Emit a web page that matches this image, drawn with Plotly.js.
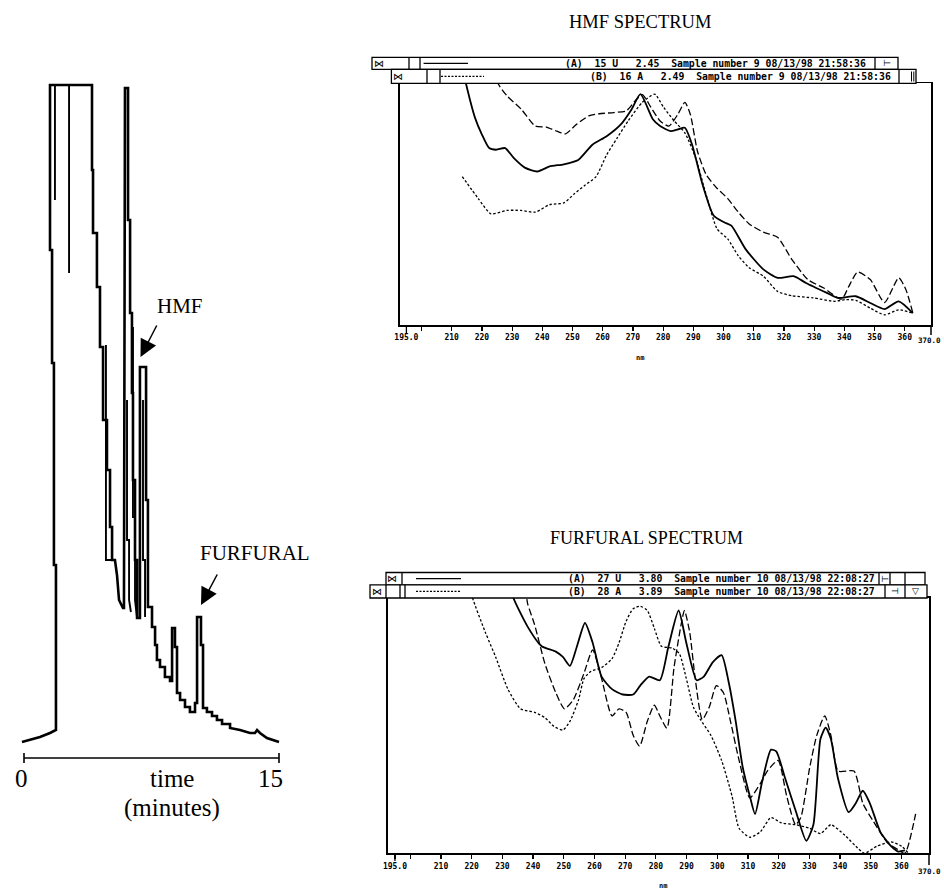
<!DOCTYPE html>
<html>
<head>
<meta charset="utf-8">
<script src="https://cdn.plot.ly/plotly-3.0.1.min.js"></script>
<style>html,body{margin:0;padding:0;background:#fff;}#chart{width:944px;height:893px;}</style>
</head>
<body>
<div id="chart"></div>
<script>
// ---------- DATA ----------
// Chromatogram (time in minutes, detector response in arbitrary units)
const chromTime = [-0.12,0.35,0.94,1.53,1.88,1.88,1.76,1.76,1.65,1.65,1.53,1.53,4.00,4.00,4.06,4.06,4.29,4.29,4.47,4.47,
  4.65,4.65,4.88,4.88,5.06,5.06,5.18,5.18,5.35,5.47,5.59,5.82,5.88,5.94,6.12,6.12,6.24,6.24,6.35,6.35,
  6.41,6.41,6.53,6.53,6.65,6.65,6.82,6.82,7.18,7.18,7.29,7.29,7.53,7.53,7.71,7.71,7.82,7.82,8.00,8.00,
  8.29,8.29,8.59,8.59,8.71,8.71,8.88,8.88,9.00,9.00,9.18,9.18,9.47,9.47,9.76,9.76,10.06,10.06,10.18,10.18,
  10.41,10.41,10.53,10.53,10.76,10.76,11.06,11.06,11.35,11.35,11.65,11.65,12.12,12.12,12.71,13.29,13.59,13.71,13.88,14.29,15.00];
const chromSignal = [18,20,23,27,30,195,195,397,397,510,510,675,675,590,590,527,527,473,473,413,
  413,340,340,290,290,233,233,200,200,185,160,152,152,672,672,540,540,447,447,367,
  367,280,280,200,200,142,142,393,393,260,260,153,153,133,133,115,115,100,100,93,
  93,83,83,79,79,132,132,113,113,67,67,60,60,53,53,48,48,57,57,143,
  143,115,115,52,52,48,48,44,44,40,40,36,36,32,30,27,27,30,27,22,18];
const overlayTime = [1.82,1.82,null,2.65,2.65,null,4.82,4.82,5.24,null,6.41,6.41,6.53,6.53,6.65,null,6.06,6.06,6.18,6.18,6.29,null,7.00,7.00,7.12,7.12];
const overlaySignal = [675,560,null,675,487,null,415,200,200,null,433,243,243,160,142,null,360,220,220,160,148,null,360,200,200,143];

// HMF spectrum (nm, relative absorbance)
const hmfSolidNm = [213.5,214.7,217.7,220.0,222.4,224.7,227.7,230.6,234.2,238.3,242.4,247.1,251.9,256.6,261.3,266.0,269.6,272.5,276.6,279.0,
  282.5,284.9,287.2,289.6,293.1,296.7,300.2,302.6,307.3,313.2,317.9,323.2,327.3,334.4,337.9,343.8,348.6,353.3,358.0,362.7];
const hmfSolidAbs = [107,100,85.8,78.8,73.2,72.5,73.2,69.0,65.1,63.5,65.6,66.5,68.3,74.6,78.1,83.0,89.3,95.5,85.1,82.3,
  80.2,80.9,81.6,74.6,57.9,45.3,42.5,41.1,31.4,23.0,19.5,20.2,17.4,13.2,11.2,11.9,9.1,6.6,9.8,4.9];
const hmfDashNm = [224.2,225.3,228.3,233.0,237.7,241.3,244.8,247.7,251.3,255.4,258.9,263.7,267.8,270.7,273.1,276.0,279.0,281.9,284.9,287.2,
  289.0,291.4,294.3,297.9,301.4,304.9,308.5,313.2,317.9,322.6,327.9,333.2,339.1,341.5,344.4,348.6,353.3,358.0,360.4,362.7];
const hmfDashAbs = [105,100,94.8,89.3,82.3,81.9,80.2,79.1,83.0,86.5,87.4,87.9,88.6,92.7,95.3,90.0,84.4,82.3,87.2,92.1,
  87.2,71.8,62.1,56.5,52.3,46.7,41.8,38.4,36.3,27.2,18.8,15.3,10.7,16.0,21.9,18.8,9.3,19.5,14.6,4.9];
const hmfDotNm = [213.5,218.8,223.0,228.3,233.0,237.7,242.4,247.1,250.7,254.2,257.8,261.3,264.8,268.4,273.1,277.2,280.2,283.7,287.2,290.8,
  294.3,297.9,301.4,304.9,308.5,313.2,317.9,322.6,329.7,336.8,340.3,343.8,348.6,353.3,358.0,362.7];
const hmfDotAbs = [61.4,52.3,46.0,47.4,47.4,46.7,49.8,50.5,54.4,57.9,61.4,70.4,77.4,84.4,92.1,95.5,90.0,84.4,79.5,69.0,
  53.7,39.7,35.6,28.6,23.7,20.2,13.9,12.1,11.2,9.8,10.5,10.2,7.0,4.2,6.3,4.9];

// Furfural spectrum
const furDotNm = [219.8,220.3,224.4,227.8,231.8,235.9,240.5,243.9,246.8,249.7,252.0,254.8,256.6,258.9,262.3,265.7,268.0,270.3,272.6,274.9,
  277.2,279.5,281.8,285.3,287.6,289.9,292.2,294.5,297.9,301.4,304.8,307.1,310.6,314.0,317.5,320.9,325.5,330.1,333.6,337.0,
  341.6,345.1,347.9,352.0,356.6,360.0,362.3];
const furDotAbs = [103.5,100,86.7,76.9,64.3,56.6,55.2,53.1,49.7,48.3,51.7,60.1,68.5,71.3,72.7,76.2,82.5,90.9,95.8,96.8,
  95.1,88.1,81.1,80.4,78.3,68.5,57.3,52.4,46.2,36.4,22.4,9.8,6.3,8.4,14.0,11.9,11.2,9.8,7.7,11.2,
  7.0,2.8,0,2.8,4.5,2.8,0];
const furSolidNm = [233.0,233.6,238.2,242.8,247.4,249.7,252.0,254.3,256.9,259.4,262.3,265.7,269.2,272.6,274.9,277.8,281.3,284.1,287.4,289.9,
  293.3,295.6,298.5,301.4,303.7,306.0,308.3,310.6,312.3,314.6,317.5,319.2,322.1,325.5,329.0,331.3,333.6,335.3,337.0,339.3,
  342.8,345.1,347.4,349.7,353.1,356.6,358.9,361.1];
const furSolidAbs = [103.5,100,88.8,81.1,79.0,76.9,73.4,81.1,90.2,82.5,69.2,64.3,62.2,62.2,65.7,69.2,67.8,81.1,95.1,82.5,
  67.8,69.2,74.8,77.6,67.1,51.7,33.6,22.4,15.4,28.0,40.6,39.9,29.4,16.8,4.9,11.2,44.8,49.2,44.8,29.4,
  16.1,19.6,24.5,19.6,8.4,2.8,0.7,1.1];
const furDashNm = [237.6,238.2,240.5,243.9,247.4,250.2,253.1,256.6,259.4,262.3,265.7,268.0,270.3,272.6,274.7,277.2,279.5,281.3,283.6,285.9,
  288.2,289.3,291.0,292.8,295.1,297.4,299.7,302.0,304.3,307.1,310.6,314.0,316.3,319.8,322.6,325.5,327.2,330.1,332.4,335.0,
  337.0,339.4,344.5,347.4,350.8,355.4,358.9,361.1,364.6];
const furDashAbs = [103.5,97.9,89.5,74.1,62.9,56.6,60.1,70.6,79.7,68.5,53.8,56.6,55.2,46.2,42.0,51.7,58.0,53.8,49.0,72.7,
  89.5,95.1,86.7,68.5,52.4,57.3,65.7,62.9,51.7,36.4,21.7,27.3,32.2,36.4,22.4,11.2,14.0,33.6,46.2,53.8,
  46.2,32.2,32.2,19.6,12.6,4.2,1.4,0,15.4];

// Tick labels
const nmTickVals = [195,200,210,220,230,240,250,260,270,280,290,300,310,320,330,340,350,360];
const nmTickText = ['195.0','','210','220','230','240','250','260','270','280','290','300','310','320','330','340','350','360'];
const nmEndLabel = '370.0';

// Header texts
const hmfHeaderA = '(A)  15 U   2.45  Sample number 9 08/13/98 21:58:36';
const hmfHeaderB = '(B)  16 A   2.49  Sample number 9 08/13/98 21:58:36';
const furHeaderA = '(A)  27 U   3.80  Sample number 10 08/13/98 22:08:27';
const furHeaderB = '(B)  28 A   3.89  Sample number 10 08/13/98 22:08:27';

// ---------- LAYOUT HELPERS ----------
const W = 944, H = 893;
const px = x => x / W;
const py = y => 1 - y / H;
const nb = s => s.replace(/ /g, '\u00A0');
const BLK = '#000';
const serif = 'Liberation Serif, Times New Roman, serif';
const mono = 'DejaVu Sans Mono, monospace';

function rect(x0, y0, x1, y1) {
  return {type:'rect', xref:'paper', yref:'paper', x0:px(x0), x1:px(x1), y0:py(y1), y1:py(y0),
          line:{color:BLK, width:1.3}, fillcolor:'#fff', layer:'above'};
}
function pline(x0, y0, x1, y1, w, dash) {
  return {type:'line', xref:'paper', yref:'paper', x0:px(x0), x1:px(x1), y0:py(y0), y1:py(y1),
          line:{color:BLK, width:w || 1.3, dash:dash || 'solid'}, layer:'above'};
}
function txt(x, y, t, size, fam, opts) {
  return Object.assign({xref:'paper', yref:'paper', x:px(x), y:py(y), text:t, showarrow:false,
          xanchor:'center', yanchor:'middle', font:{family:fam, size:size, color:BLK}}, opts || {});
}

const shapes = [];
// HMF header row A
shapes.push(rect(372, 57.3, 898, 69.3));
[409, 420, 875].forEach(x => shapes.push(pline(x, 57.3, x, 69.3)));
shapes.push(pline(423.6, 63.3, 468, 63.3, 1.3));
// HMF header row B
shapes.push(rect(391.4, 69.3, 916, 83.3));
[427, 440, 899].forEach(x => shapes.push(pline(x, 69.3, x, 83.3)));
shapes.push(pline(911.5, 71.5, 911.5, 81.5, 1));
shapes.push(pline(913.8, 71.5, 913.8, 81.5, 1));
shapes.push(pline(441, 76.3, 484, 76.3, 1.3, '2px,1.5px'));
// Furfural header row A
shapes.push(rect(386, 572.5, 925, 584.8));
[402, 879, 890, 905].forEach(x => shapes.push(pline(x, 572.5, x, 584.8)));
shapes.push(pline(416, 578.6, 461, 578.6, 1.3));
// Furfural header row B
shapes.push(rect(370, 584.8, 927, 598));
[386, 400, 405, 885, 905].forEach(x => shapes.push(pline(x, 584.8, x, 598)));
shapes.push(pline(416, 591.4, 461, 591.4, 1.3, '2px,1.5px'));
// extra long ticks
shapes.push({type:'line', xref:'x2', yref:'paper', x0:195, x1:195, y0:py(325), y1:py(333), line:{color:BLK, width:1.3}});
shapes.push(pline(931, 325, 931, 335, 1.5));
shapes.push({type:'line', xref:'x3', yref:'paper', x0:195, x1:195, y0:py(853.3), y1:py(861), line:{color:BLK, width:1.3}});
shapes.push(pline(929, 853.3, 929, 865, 1.5));
// chromatogram time bar
shapes.push({type:'line', xref:'x', yref:'y', x0:0, x1:15, y0:2, y1:2, line:{color:BLK, width:1.6}});
shapes.push({type:'line', xref:'x', yref:'y', x0:0, x1:0, y0:-3, y1:7, line:{color:BLK, width:1.6}});
shapes.push({type:'line', xref:'x', yref:'y', x0:15, x1:15, y0:-3, y1:7, line:{color:BLK, width:1.6}});

const hdrFont = size => ({family:mono, size:size, color:BLK, weight:'bold'});
const annotations = [
  txt(640, 22, 'HMF SPECTRUM', 18.5, serif),
  txt(646, 538, 'FURFURAL SPECTRUM', 18, serif),
  txt(180, 306, 'HMF', 21, serif),
  txt(255, 553, 'FURFURAL', 21, serif),
  txt(21, 778, '0', 25, serif),
  txt(172, 778, 'time', 25, serif),
  txt(270, 778, '15', 25, serif),
  txt(172, 808, '(minutes)', 25, serif),
  Object.assign(txt(640, 358, 'nm', 7, mono), {font:hdrFont(7)}),
  Object.assign(txt(663, 886, 'nm', 7, mono), {font:hdrFont(7)}),
  Object.assign(txt(943, 341, nmEndLabel, 7.5, mono, {xanchor:'right'}), {font:hdrFont(7.5)}),
  Object.assign(txt(943, 871, nmEndLabel, 7.5, mono, {xanchor:'right'}), {font:hdrFont(7.5)}),
  // header texts
  Object.assign(txt(868, 63.6, nb(hmfHeaderA), 9.8, mono, {xanchor:'right'}), {font:hdrFont(9.8)}),
  Object.assign(txt(893, 76.6, nb(hmfHeaderB), 9.8, mono, {xanchor:'right'}), {font:hdrFont(9.8)}),
  Object.assign(txt(877, 578.9, nb(furHeaderA), 9.8, mono, {xanchor:'right'}), {font:hdrFont(9.8)}),
  Object.assign(txt(877, 591.7, nb(furHeaderB), 9.8, mono, {xanchor:'right'}), {font:hdrFont(9.8)}),
  // header icons
  txt(379, 63.3, '\u22C8', 10, 'DejaVu Sans'),
  txt(398, 76.3, '\u22C8', 10, 'DejaVu Sans'),
  txt(886.5, 63.3, '\u22A2', 9, 'DejaVu Sans'),
  txt(392, 578.6, '\u22C8', 10, 'DejaVu Sans'),
  txt(377, 591.4, '\u22C8', 10, 'DejaVu Sans'),
  txt(884.5, 578.6, '\u22A2', 9, 'DejaVu Sans'),
  txt(895, 591.4, '\u22A3', 9, 'DejaVu Sans'),
  txt(915, 591.4, '\u25BD', 9, 'DejaVu Sans'),
  // arrows
  {xref:'paper', yref:'paper', x:px(140.5), y:py(357), ax:17, ay:-33, text:'', showarrow:true,
   arrowhead:2, arrowsize:2.3, arrowwidth:1.5, arrowcolor:BLK},
  {xref:'paper', yref:'paper', x:px(201), y:py(605), ax:17, ay:-32, text:'', showarrow:true,
   arrowhead:2, arrowsize:2.3, arrowwidth:1.5, arrowcolor:BLK}
];

const specAxisX = (dom, rng, anchor) => ({
  anchor:anchor, domain:dom, range:rng, tickmode:'array', tickvals:nmTickVals, ticktext:nmTickText,
  ticks:'outside', ticklen:4, tickwidth:1.2, tickcolor:BLK, showgrid:false, zeroline:false,
  showline:true, linecolor:BLK, linewidth:1.6, mirror:true,
  tickfont:{family:mono, size:8, color:BLK, weight:'bold'}, fixedrange:true
});
const specAxisY = (dom, anchor) => ({
  anchor:anchor, domain:dom, range:[0,100], showticklabels:false, ticks:'', showgrid:false, zeroline:false,
  showline:true, linecolor:BLK, linewidth:1.6, mirror:true, fixedrange:true
});

const layout = {
  width:W, height:H, margin:{l:0, r:0, t:0, b:0}, paper_bgcolor:'#fff', plot_bgcolor:'rgba(0,0,0,0)',
  showlegend:false,
  xaxis:{domain:[0, 300/W], range:[-24/17, 276/17], visible:false, fixedrange:true},
  yaxis:{domain:[1-770/H, 1-80/H], range:[-10, 680], visible:false, fixedrange:true},
  xaxis2:specAxisX([400/W, 931/W], [192.88, 368.7], 'y2'),
  yaxis2:specAxisY([1-325/H, 1-83.3/H], 'x2'),
  xaxis3:specAxisX([387.7/W, 929/W], [192.64, 368.96], 'y3'),
  yaxis3:specAxisY([1-853.3/H, 1-598/H], 'x3'),
  shapes:shapes, annotations:annotations
};

const solid = w => ({color:BLK, width:w, shape:'spline', smoothing:0.6});
const traces = [
  {x:chromTime, y:chromSignal, xaxis:'x', yaxis:'y', mode:'lines', line:{color:BLK, width:2.6}},
  {x:overlayTime, y:overlaySignal, xaxis:'x', yaxis:'y', mode:'lines', line:{color:BLK, width:1.9}, connectgaps:false},
  {x:hmfSolidNm, y:hmfSolidAbs, xaxis:'x2', yaxis:'y2', mode:'lines', line:solid(1.8)},
  {x:hmfDashNm, y:hmfDashAbs, xaxis:'x2', yaxis:'y2', mode:'lines', line:Object.assign(solid(1.3), {dash:'7px,3px'})},
  {x:hmfDotNm, y:hmfDotAbs, xaxis:'x2', yaxis:'y2', mode:'lines', line:Object.assign(solid(1.3), {dash:'2.5px,2px'})},
  {x:furSolidNm, y:furSolidAbs, xaxis:'x3', yaxis:'y3', mode:'lines', line:solid(1.8)},
  {x:furDashNm, y:furDashAbs, xaxis:'x3', yaxis:'y3', mode:'lines', line:Object.assign(solid(1.3), {dash:'7px,3px'})},
  {x:furDotNm, y:furDotAbs, xaxis:'x3', yaxis:'y3', mode:'lines', line:Object.assign(solid(1.3), {dash:'2.5px,2px'})}
];

Plotly.newPlot('chart', traces, layout, {displayModeBar:false, staticPlot:true});
</script>
</body>
</html>
